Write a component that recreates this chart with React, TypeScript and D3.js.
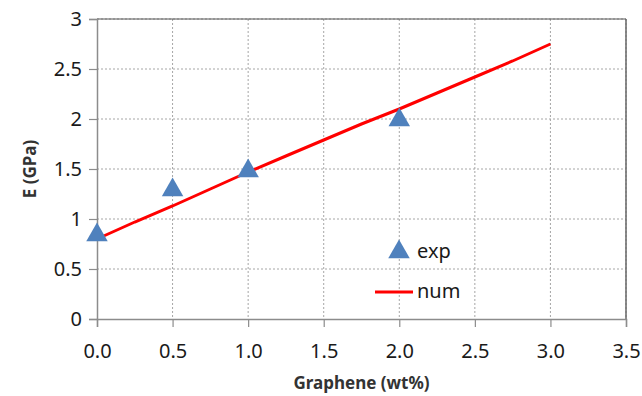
import React, { useEffect, useRef } from 'react';
import * as d3 from 'd3';

// experimental points
const expX = [0, 0.5, 1, 2];
const expY = [0.85, 1.3, 1.49, 2.0];

// numerical curve
const numX = [0, 0.25, 0.5, 0.75, 1, 1.25, 1.5, 1.75, 2, 2.25, 2.5, 2.75, 3];
const numY = [0.8, 0.97, 1.13, 1.3, 1.47, 1.63, 1.79, 1.95, 2.1, 2.26, 2.42, 2.58, 2.75];

const xTicks = [0, 0.5, 1, 1.5, 2, 2.5, 3, 3.5];
const yTicks = [0, 0.5, 1, 1.5, 2, 2.5, 3];

const W = 642;
const H = 396;
const FONT = "'Noto Sans', 'Open Sans', sans-serif";

const App = () => {
  const svgRef = useRef(null);

  useEffect(() => {
    const svg = d3.select(svgRef.current);
    svg.selectAll('*').remove();

    const left = 97, right = 626, top = 19, bottom = 319;
    const x = d3.scaleLinear().domain([0, 3.5]).range([left, right]);
    const y = d3.scaleLinear().domain([0, 3]).range([bottom, top]);

    svg.append('rect').attr('width', W).attr('height', H).attr('fill', '#fff');

    // grid
    const grid = svg.append('g');
    grid.selectAll('.gx')
      .data(xTicks.slice(1))
      .enter()
      .append('line')
      .attr('x1', d => x(d)).attr('x2', d => x(d))
      .attr('y1', top).attr('y2', bottom)
      .attr('stroke', '#a6a6a6')
      .attr('stroke-dasharray', '2,2');
    grid.selectAll('.gy')
      .data(yTicks.slice(1))
      .enter()
      .append('line')
      .attr('x1', left).attr('x2', right)
      .attr('y1', d => y(d)).attr('y2', d => y(d))
      .attr('stroke', '#a6a6a6')
      .attr('stroke-dasharray', '2,2');

    // plot border
    svg.append('line')
      .attr('x1', left).attr('x2', right).attr('y1', top).attr('y2', top)
      .attr('stroke', '#555').attr('stroke-width', 1);
    svg.append('line')
      .attr('x1', right).attr('x2', right).attr('y1', top).attr('y2', bottom)
      .attr('stroke', '#666').attr('stroke-width', 1.5);

    // axes
    const xAxis = svg.append('g')
      .attr('transform', `translate(0,${bottom})`)
      .call(d3.axisBottom(x).tickValues(xTicks).tickFormat(d3.format('.1f')).tickSize(8).tickPadding(17));
    const yAxis = svg.append('g')
      .attr('transform', `translate(${left},0)`)
      .call(d3.axisLeft(y).tickValues(yTicks).tickFormat(d => String(d)).tickSize(8).tickPadding(7));

    [xAxis, yAxis].forEach(a => {
      a.select('.domain').attr('stroke', '#8c8c8c').attr('stroke-width', 1.5);
      a.selectAll('.tick line').attr('stroke', '#8c8c8c').attr('stroke-width', 1.2);
      a.selectAll('text')
        .style('font-family', FONT)
        .style('font-size', '20px')
        .attr('fill', '#1a1a1a');
    });
    xAxis.selectAll('text').attr('dy', '0.71em');

    // num line
    const line = d3.line()
      .x((d, i) => x(numX[i]))
      .y(d => y(d));
    svg.append('path')
      .datum(numY)
      .attr('d', line)
      .attr('fill', 'none')
      .attr('stroke', '#ff0000')
      .attr('stroke-width', 3);

    // exp markers
    const tri = d3.symbol().type(d3.symbolTriangle).size(200);
    svg.selectAll('.exp')
      .data(expY)
      .enter()
      .append('path')
      .attr('d', tri)
      .attr('transform', (d, i) => `translate(${x(expX[i])},${y(d) + 1})`)
      .attr('fill', '#4f81bd');

    // legend
    const lg = svg.append('g').style('font-family', FONT).style('font-size', '20px');
    lg.append('path')
      .attr('d', tri)
      .attr('transform', 'translate(399,252)')
      .attr('fill', '#4f81bd');
    lg.append('text').attr('x', 417).attr('y', 258).text('exp').attr('fill', '#1a1a1a');
    lg.append('line')
      .attr('x1', 375).attr('x2', 413).attr('y1', 292).attr('y2', 292)
      .attr('stroke', '#ff0000').attr('stroke-width', 3);
    lg.append('text').attr('x', 417).attr('y', 298).text('num').attr('fill', '#1a1a1a');

    // axis titles
    svg.append('text')
      .attr('x', (left + right) / 2)
      .attr('y', 389)
      .attr('text-anchor', 'middle')
      .style('font-family', FONT)
      .style('font-size', '17px')
      .style('font-weight', 'bold')
      .attr('fill', '#333')
      .text('Graphene (wt%)');
    svg.append('text')
      .attr('transform', `translate(36,${(top + bottom) / 2}) rotate(-90)`)
      .attr('text-anchor', 'middle')
      .style('font-family', FONT)
      .style('font-size', '17px')
      .style('font-weight', 'bold')
      .attr('fill', '#333')
      .text('E (GPa)');
  }, []);

  return (
    <div style={{ position: 'absolute', left: 0, top: 0 }}>
      <svg ref={svgRef} width={W} height={H} style={{ display: 'block' }}></svg>
    </div>
  );
};

export default App;
